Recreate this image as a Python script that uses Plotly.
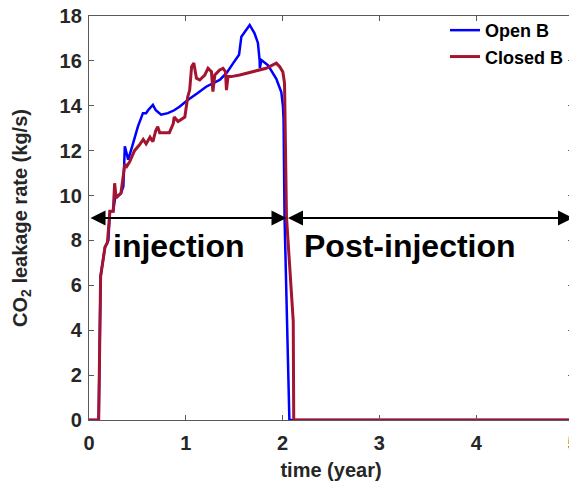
import plotly.graph_objects as go

# ---- data ----
open_b_time = [0.0, 0.10, 0.12, 0.165, 0.20, 0.216, 0.25, 0.27, 0.33, 0.355, 0.37, 0.405,
               0.45, 0.505, 0.557, 0.59, 0.61, 0.66, 0.69, 0.745, 0.815, 0.88, 0.935,
               1.02, 1.12, 1.21, 1.35, 1.42, 1.49, 1.52, 1.55, 1.574, 1.626, 1.66, 1.71,
               1.745, 1.763, 1.765, 1.78, 1.85, 1.935, 1.987, 2.003, 2.01, 2.02, 2.055,
               2.07, 5.0]
open_b_rate = [0.0, 0.0, 6.4, 7.7, 8.0, 9.3, 9.3, 9.9, 10.1, 10.4, 12.2, 11.6,
               12.25, 13.07, 13.67, 13.67, 13.8, 14.04, 13.8, 13.6, 13.67, 13.8, 13.96,
               14.26, 14.56, 14.85, 15.15, 15.45, 15.9, 16.1, 16.27, 17.08, 17.38, 17.6, 17.23,
               16.8, 16.0, 15.67, 16.04, 15.8, 15.2, 14.6, 14.0, 13.4, 9.06, 1.65,
               0.0, 0.0]

closed_b_time = [0.0, 0.10, 0.12, 0.165, 0.19, 0.216, 0.25, 0.265, 0.28, 0.33, 0.37, 0.39,
                 0.42, 0.47, 0.52, 0.56, 0.59, 0.63, 0.66, 0.69, 0.71, 0.73, 0.83, 0.87,
                 0.88, 0.92, 0.99, 1.02, 1.04, 1.06, 1.083, 1.11, 1.144, 1.196, 1.23, 1.265,
                 1.28, 1.30, 1.35, 1.385, 1.41, 1.42, 1.436, 1.47, 1.557, 1.626, 1.694, 1.83,
                 1.935, 1.97, 2.003, 2.02, 2.04, 2.11, 2.115, 5.0]
closed_b_rate = [0.0, 0.0, 6.4, 7.7, 7.9, 9.3, 9.3, 10.55, 9.9, 10.1, 11.4, 11.3,
                 11.5, 12.0, 12.25, 12.5, 12.3, 12.6, 12.4, 12.9, 13.07, 12.8, 12.8, 13.2,
                 13.5, 13.3, 13.5, 14.4, 14.7, 15.74, 15.9, 15.23, 15.15, 15.37, 15.67, 15.52,
                 14.63, 15.37, 15.6, 15.67, 15.52, 14.7, 15.3, 15.3, 15.37, 15.45, 15.52, 15.67,
                 15.9, 15.74, 15.5, 15.0, 9.06, 4.4, 0.0, 0.0]

x_ticks = [0, 1, 2, 3, 4, 5]
y_ticks = [0, 2, 4, 6, 8, 10, 12, 14, 16, 18]

injection_end = 2.04
arrow_level = 9
period_labels = ["injection", "Post-injection"]

FONT = "Liberation Sans, Arial, Helvetica, sans-serif"
AXIS_COLOR = "#262626"

fig = go.Figure()
fig.add_trace(go.Scatter(x=open_b_time, y=open_b_rate, mode="lines", name="Open B",
                         line=dict(color="#0000FF", width=2.5)))
fig.add_trace(go.Scatter(x=closed_b_time, y=closed_b_rate, mode="lines", name="Closed B",
                         line=dict(color="#A2142F", width=3)))

# double-headed arrows marking the two periods
for x0, x1 in [(0, injection_end), (injection_end, x_ticks[-1])]:
    fig.add_annotation(x=x1, y=arrow_level, ax=x0, ay=arrow_level, xref="x", yref="y",
                       axref="x", ayref="y", text="", showarrow=True,
                       arrowhead=2, startarrowhead=2, arrowside="end+start",
                       arrowwidth=2, arrowsize=1.5, startarrowsize=1.5,
                       arrowcolor="black", standoff=0, startstandoff=0)

fig.add_annotation(x=0.93, y=7.75, xref="x", yref="y", text="<b>" + period_labels[0] + "</b>",
                   showarrow=False, font=dict(family=FONT, size=32, color="black"))
fig.add_annotation(x=3.32, y=7.75, xref="x", yref="y", text="<b>" + period_labels[1] + "</b>",
                   showarrow=False, font=dict(family=FONT, size=32, color="black"))

axis_common = dict(showline=True, linecolor="#595959", linewidth=1.3, mirror="ticks",
                   ticks="inside", ticklen=5, tickcolor="#595959", showgrid=False,
                   zeroline=False, automargin=False, ticklabeloverflow="allow",
                   tickfont=dict(family=FONT, size=20, color=AXIS_COLOR, weight="bold"))

# the page body has an 8px margin: the figure is sized/offset to fill the 577x481 window
fig.update_layout(
    width=569, height=473,
    margin=dict(l=81, r=4, t=8, b=61),
    paper_bgcolor="white", plot_bgcolor="white",
    font=dict(family=FONT, color=AXIS_COLOR),
    xaxis=dict(range=[0, 5], tickvals=x_ticks, ticktext=[str(v) for v in x_ticks],
               ticklabelstandoff=5,
               title=dict(text="<b>time (year)</b>", font=dict(family=FONT, size=20, color=AXIS_COLOR),
                          standoff=9),
               **axis_common),
    yaxis=dict(range=[0, 18], tickvals=y_ticks, ticktext=[str(v) for v in y_ticks],
               ticklabelstandoff=2,
               title=dict(text="<b>CO<sub>2</sub> leakage rate (kg/s)</b>",
                          font=dict(family=FONT, size=20, color=AXIS_COLOR), standoff=26),
               **axis_common),
    legend=dict(x=0.7355, y=1.01, xanchor="left", yanchor="top", bgcolor="rgba(0,0,0,0)",
                font=dict(family=FONT, size=18, color="black", weight="bold"),
                borderwidth=0),
    showlegend=True,
)

fig.write_html("out.html")
